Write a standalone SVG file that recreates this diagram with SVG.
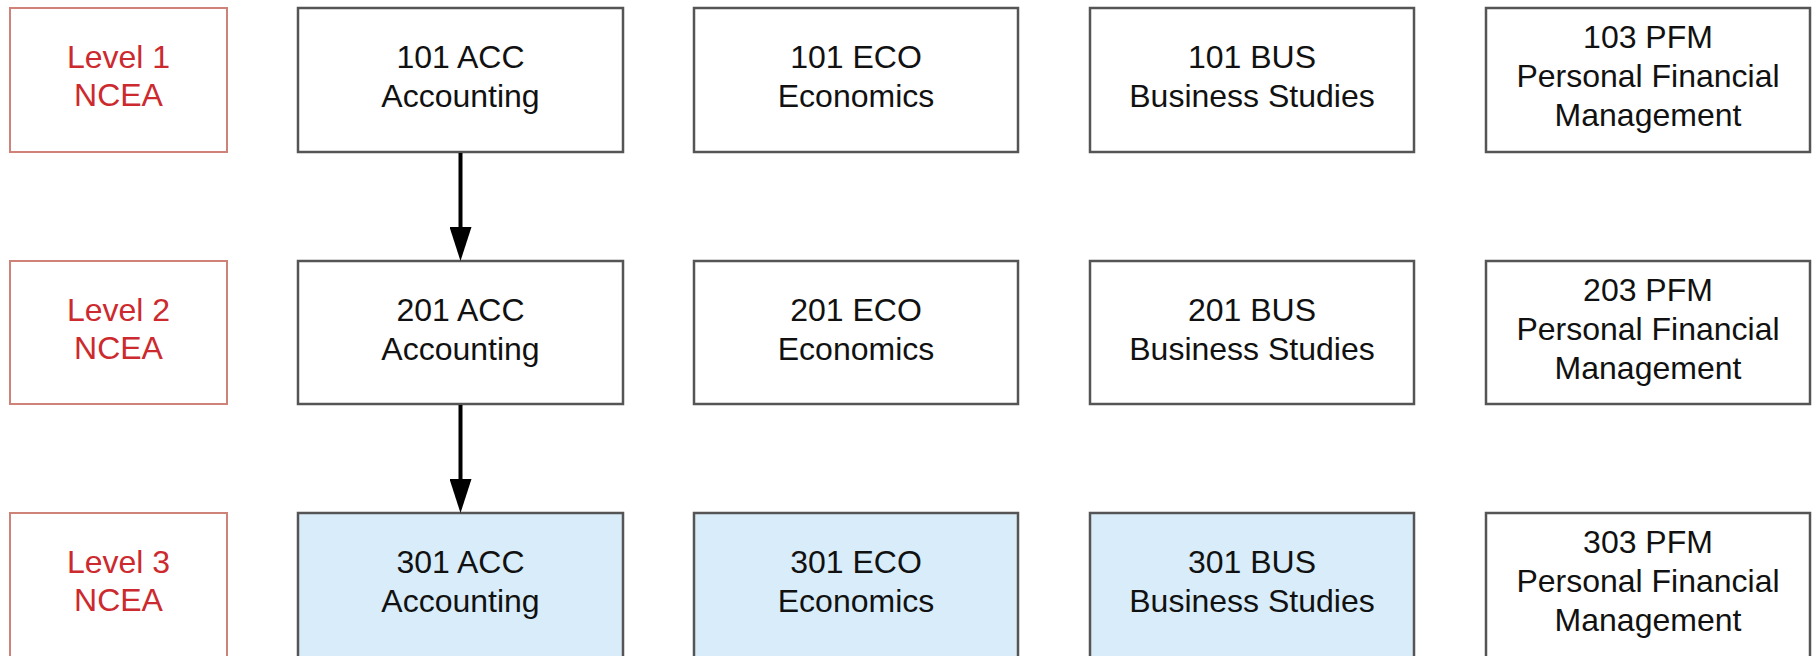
<svg xmlns="http://www.w3.org/2000/svg" width="1814" height="656" viewBox="0 0 1814 656">
<style>
  .lvl rect { fill: #ffffff; stroke: #cf8378; stroke-width: 2; }
  .lvl text { fill: #cc2a2e; }
  .crs rect { fill: #ffffff; stroke: #555555; stroke-width: 2.5; }
  .crs.l3 rect { fill: #d8ecf9; }
  .crs.pfm rect { fill: #ffffff; }
  text { font-family: "Liberation Sans", Arial, sans-serif; font-size: 32px; fill: #111111; text-anchor: middle; }
  .conn line { stroke: #000000; stroke-width: 4; fill: none; }
</style>
<defs>
  <marker id="arrow" markerUnits="userSpaceOnUse" markerWidth="34" markerHeight="22" viewBox="0 0 34 22" refX="0" refY="11" orient="auto">
    <path d="M0,0 L34,11 L0,22 Z" fill="#000000"/>
  </marker>
</defs>
<rect x="0" y="0" width="1814" height="656" fill="#ffffff"/>

<!-- Level labels -->
<g id="level1" class="lvl"><rect x="10" y="8" width="217" height="144"/><text x="118.5" y="68">Level 1</text><text x="118.5" y="106">NCEA</text></g>
<g id="level2" class="lvl"><rect x="10" y="261" width="217" height="143"/><text x="118.5" y="321">Level 2</text><text x="118.5" y="359">NCEA</text></g>
<g id="level3" class="lvl"><rect x="10" y="513" width="217" height="150"/><text x="118.5" y="573">Level 3</text><text x="118.5" y="611">NCEA</text></g>

<!-- Row 1 -->
<g id="acc101" class="crs"><rect x="298" y="8" width="325" height="144"/><text x="460.5" y="68">101 ACC</text><text x="460.5" y="107">Accounting</text></g>
<g id="eco101" class="crs"><rect x="694" y="8" width="324" height="144"/><text x="856" y="68">101 ECO</text><text x="856" y="107">Economics</text></g>
<g id="bus101" class="crs"><rect x="1090" y="8" width="324" height="144"/><text x="1252" y="68">101 BUS</text><text x="1252" y="107">Business Studies</text></g>
<g id="pfm103" class="crs pfm"><rect x="1486" y="8" width="324" height="144"/><text x="1648" y="48">103 PFM</text><text x="1648" y="87">Personal Financial</text><text x="1648" y="126">Management</text></g>

<!-- Row 2 -->
<g id="acc201" class="crs"><rect x="298" y="261" width="325" height="143"/><text x="460.5" y="321">201 ACC</text><text x="460.5" y="360">Accounting</text></g>
<g id="eco201" class="crs"><rect x="694" y="261" width="324" height="143"/><text x="856" y="321">201 ECO</text><text x="856" y="360">Economics</text></g>
<g id="bus201" class="crs"><rect x="1090" y="261" width="324" height="143"/><text x="1252" y="321">201 BUS</text><text x="1252" y="360">Business Studies</text></g>
<g id="pfm203" class="crs pfm"><rect x="1486" y="261" width="324" height="143"/><text x="1648" y="301">203 PFM</text><text x="1648" y="340">Personal Financial</text><text x="1648" y="379">Management</text></g>

<!-- Row 3 -->
<g id="acc301" class="crs l3"><rect x="298" y="513" width="325" height="150"/><text x="460.5" y="573">301 ACC</text><text x="460.5" y="612">Accounting</text></g>
<g id="eco301" class="crs l3"><rect x="694" y="513" width="324" height="150"/><text x="856" y="573">301 ECO</text><text x="856" y="612">Economics</text></g>
<g id="bus301" class="crs l3"><rect x="1090" y="513" width="324" height="150"/><text x="1252" y="573">301 BUS</text><text x="1252" y="612">Business Studies</text></g>
<g id="pfm303" class="crs pfm"><rect x="1486" y="513" width="324" height="150"/><text x="1648" y="553">303 PFM</text><text x="1648" y="592">Personal Financial</text><text x="1648" y="631">Management</text></g>

<!-- Connectors -->
<g id="connectors" class="conn">
  <line x1="460.5" y1="153" x2="460.5" y2="227" marker-end="url(#arrow)"/>
  <line x1="460.5" y1="405" x2="460.5" y2="479" marker-end="url(#arrow)"/>
</g>
</svg>
